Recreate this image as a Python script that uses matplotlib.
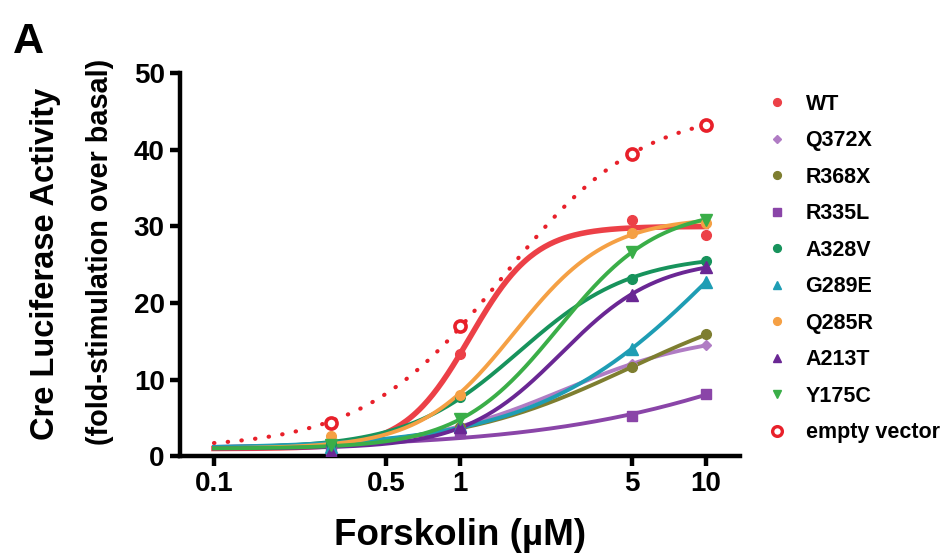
import numpy as np
import matplotlib
matplotlib.use("Agg")
import matplotlib.pyplot as plt
from matplotlib.lines import Line2D

plt.rcParams['font.family'] = ['Liberation Sans', 'DejaVu Sans']
plt.rcParams['font.weight'] = 'bold'

# dosis de forskolina (uM)
dose = np.array([0.3, 1, 5, 10])

labels = ['WT', 'Q372X', 'R368X', 'R335L', 'A328V', 'G289E',
          'Q285R', 'A213T', 'Y175C', 'empty vector']

wt = [2.0, 13.3, 30.9, 28.9]
q372x = [1.3, 4.0, 12.0, 14.5]
r368x = [1.4, 3.8, 11.6, 15.9]
r335l = [0.8, 3.0, 5.3, 8.1]
a328v = [1.6, 7.7, 23.2, 25.5]
g289e = [1.2, 4.0, 14.0, 22.8]
q285r = [2.6, 8.0, 29.2, 30.5]
a213t = [0.5, 3.8, 21.1, 24.7]
y175c = [1.5, 4.8, 26.7, 30.9]
empty = [4.4, 17.0, 39.4, 43.3]

series = [wt, q372x, r368x, r335l, a328v, g289e, q285r, a213t, y175c, empty]

colors = ['#EC4047', '#B07CC4', '#7E7E30', '#8A45A8', '#17935C', '#1E9DB4',
          '#F5A044', '#6A2794', '#3AAE48', '#E8202A']
markers = ['o', 'D', 'o', 's', 'o', '^', 'o', '^', 'v', 'o']
msizes = [7, 5.5, 7, 7, 7, 8, 7, 8, 8, 8]


def fit_curve(x, y):
    # ajuste sigmoide (base = 1) por busqueda en rejilla
    lx = np.log10(x)
    y = np.asarray(y, float) - 1
    best = None
    for logec in np.linspace(-1, 2, 301):
        for h in np.linspace(0.4, 4, 145):
            f = 1 / (1 + 10 ** ((logec - lx) * h))
            amp = np.sum(f * y) / np.sum(f * f)
            sse = np.sum((amp * f - y) ** 2)
            if best is None or sse < best[0]:
                best = (sse, logec, h, amp)
    return best[1:]


fig = plt.figure(figsize=(9.52, 5.55), dpi=100)
ax = fig.add_axes([0.189, 0.178, 0.588, 0.69])

xs = np.logspace(-1, 1, 300)
handles = []
for i, (lab, vals) in enumerate(zip(labels, series)):
    logec, h, amp = fit_curve(dose, vals)
    ys = 1 + amp / (1 + 10 ** ((logec - np.log10(xs)) * h))
    if lab == 'empty vector':
        ax.plot(xs, ys, color=colors[i], lw=3, linestyle=(0, (0.1, 3.2)),
                dash_capstyle='round', zorder=2)
        ax.plot(dose, vals, linestyle='none', marker='o', ms=msizes[i],
                mfc='white', mec=colors[i], mew=2.6, zorder=5)
        h_ = Line2D([], [], linestyle='none', marker='o', ms=7, mfc='white',
                    mec=colors[i], mew=2.4)
    else:
        lw = 4 if lab == 'WT' else 2.8
        ax.plot(xs, ys, color=colors[i], lw=lw, zorder=3)
        ax.plot(dose, vals, linestyle='none', marker=markers[i], ms=msizes[i],
                color=colors[i], zorder=4)
        h_ = Line2D([], [], linestyle='none', marker=markers[i],
                    ms=msizes[i] * 0.8, color=colors[i])
    handles.append(h_)

ax.set_xscale('log')
ax.set_xlim(0.0727, 13.7)
ax.set_ylim(0, 50)
ax.set_xticks([0.1, 0.5, 1, 5, 10])
ax.set_xticklabels(['0.1', '0.5', '1', '5', '10'])
ax.xaxis.set_minor_locator(matplotlib.ticker.NullLocator())
ax.set_yticks([0, 10, 20, 30, 40, 50])

for s in ['top', 'right']:
    ax.spines[s].set_visible(False)
for s in ['left', 'bottom']:
    ax.spines[s].set_linewidth(3.2)
ax.tick_params(width=3.2, length=7, labelsize=20, pad=4)
for t in ax.get_xticklabels() + ax.get_yticklabels():
    t.set_fontweight('bold')

ax.set_xlabel('Forskolin (µM)', fontsize=26.5, fontweight='bold', labelpad=15)
fig.text(0.048, 0.524, 'Cre Luciferase Activity', rotation=90, fontsize=23.5,
         fontweight='bold', ha='center', va='center')
fig.text(0.105, 0.546, '(fold-stimulation over basal)', rotation=90,
         fontsize=20.8, fontweight='bold', ha='center', va='center')
fig.text(0.014, 0.905, 'A', fontsize=31, fontweight='bold')

fig.legend(handles, labels, loc='upper left', bbox_to_anchor=(0.784, 0.866),
           frameon=False, labelspacing=0.72, handlelength=1.0,
           handletextpad=0.85, prop={'weight': 'bold', 'size': 15.5})

fig.savefig('out.png', dpi=100)
